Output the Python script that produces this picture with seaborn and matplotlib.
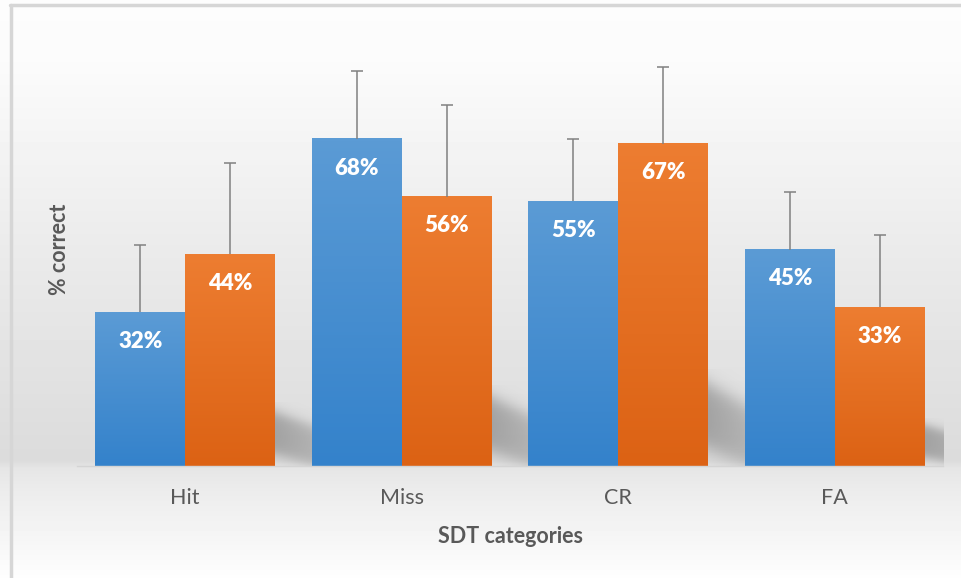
import numpy as np
import pandas as pd
import seaborn as sns
import matplotlib.pyplot as plt
from matplotlib.colors import to_rgb
from matplotlib.lines import Line2D

plt.switch_backend('agg')

# data
categories = ['Hit', 'Miss', 'CR', 'FA']
series_names = ['Series 1', 'Series 2']
series_1 = [32, 68, 55, 45]
series_2 = [44, 56, 67, 33]
err_1 = [14, 14, 13, 12]
err_2 = [19, 19, 16, 15]

W, H = 961, 578
DPI = 100

sns.set_theme(style='white')
plt.rcParams['font.family'] = ['Lato', 'DejaVu Sans']

df = pd.DataFrame({
    'category': categories * 2,
    'series': [series_names[0]] * 4 + [series_names[1]] * 4,
    'value': series_1 + series_2,
})

fig = plt.figure(figsize=(W / DPI, H / DPI), dpi=DPI)

# background gradient (whole figure)
bg_ax = fig.add_axes([0, 0, 1, 1], zorder=-10)
rows = np.arange(H)
shade = np.interp(rows, [0, 60, 250, 460, 468, 490, 578],
                  [0.99, 0.985, 0.92, 0.86, 0.90, 0.925, 0.995])
bg = np.repeat(shade[:, None], 8, axis=1)
bg_ax.imshow(bg, cmap='gray', vmin=0, vmax=1, aspect='auto', extent=[0, 1, 0, 1], origin='upper')
bg_ax.set_axis_off()

# frame lines
fig.add_artist(Line2D([11 / W, 11 / W], [0, 1 - 5 / H], color='#d6d6d6', lw=2.5))
fig.add_artist(Line2D([10 / W, 1], [1 - 5 / H, 1 - 5 / H], color='#d6d6d6', lw=2.5))

ax = fig.add_axes([77 / W, 1 - 466 / H, (943 - 77) / W, (466 - 33) / H])
ax.patch.set_alpha(0)

palette = {series_names[0]: '#4a90d2', series_names[1]: '#e5701f'}
sns.barplot(data=df, x='category', y='value', hue='series', palette=palette,
            width=0.83, errorbar=None, legend=False, ax=ax, saturation=1,
            edgecolor='none', linewidth=0, zorder=3)

bar_groups = list(ax.containers)
grads = [('#5b9bd5', '#3482cb'), ('#ed7d31', '#dc6214')]
errs = [err_1, err_2]

# soft shadows to the right of the orange bars
for p in bar_groups[1]:
    x0 = p.get_x() + p.get_width()
    h = p.get_height()
    sw, sh = 0.24, 0.30 * h
    u = np.linspace(0, 1, 60)[None, :]
    v = np.linspace(0, 1, 60)[:, None]
    top = 0.85 - 0.3 * u
    bottom = 0.22 * (1 - u) - 0.05
    a = 1 / (1 + np.exp(-(top - v) / 0.06)) * 1 / (1 + np.exp(-(v - bottom) / 0.06))
    a = a * (1 - 0.35 * u) * 0.55
    img = np.zeros((60, 60, 4))
    img[..., :3] = 0.45
    img[..., 3] = a
    ax.imshow(img, extent=[x0, x0 + sw, 0, sh], origin='lower', aspect='auto', zorder=1)

for k, cont in enumerate(bar_groups):
    c_top, c_bot = np.array(to_rgb(grads[k][0])), np.array(to_rgb(grads[k][1]))
    t = np.linspace(0, 1, 100)[:, None]
    g = (c_bot * (1 - t) + c_top * t)[:, None, :]
    for i, p in enumerate(cont):
        x, w, h = p.get_x(), p.get_width(), p.get_height()
        ax.imshow(g, extent=[x, x + w, 0, h], origin='lower', aspect='auto', zorder=3.5)
        cx = x + w / 2
        eb = ax.errorbar(cx, h, yerr=[[0], [errs[k][i]]], fmt='none', ecolor='#808080',
                         elinewidth=1.1, capsize=4.3, capthick=1.1, zorder=4)
        eb[1][0].set_visible(False)  # only the upper cap
        ax.annotate('{}%'.format(int(h)), (cx, h), xytext=(0, -21), textcoords='offset points',
                    ha='center', va='center', color='white', fontsize=16, fontweight='heavy', zorder=5)

ax.set_xlim(-0.5, 3.5)
ax.set_ylim(0, 90)
ax.set_yticks([])
for s in ['top', 'right', 'left']:
    ax.spines[s].set_visible(False)
ax.spines['bottom'].set_color('#d4d4d4')
ax.spines['bottom'].set_linewidth(1)
ax.spines['bottom'].set_zorder(6)
ax.tick_params(axis='x', length=0, pad=16, labelsize=15.5, labelcolor='#595959')
ax.set_xlabel('SDT categories', fontsize=15.5, fontweight='bold', color='#595959', labelpad=13)
ax.set_ylabel('% correct', fontsize=15.5, fontweight='bold', color='#595959', labelpad=5)

fig.savefig('out.png', dpi=DPI)
